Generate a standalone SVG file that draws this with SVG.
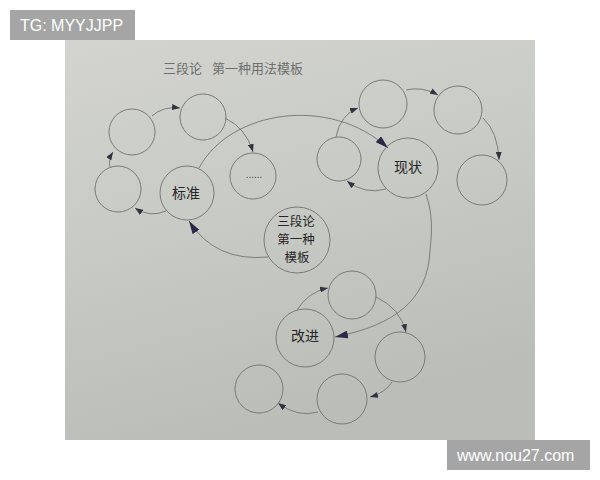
<svg xmlns="http://www.w3.org/2000/svg" width="600" height="480" viewBox="0 0 600 480">
<defs>
<linearGradient id="bg" x1="0" y1="0" x2="0.3" y2="1">
<stop offset="0" stop-color="#d3d4d0"/>
<stop offset="0.5" stop-color="#c8cac5"/>
<stop offset="1" stop-color="#babdb8"/>
</linearGradient>
<marker id="sa" markerUnits="userSpaceOnUse" markerWidth="8" markerHeight="6" refX="8" refY="3" orient="auto">
<path d="M0,0 L8,3 L0,6 z" fill="#333340"/>
</marker>
<marker id="ba" markerUnits="userSpaceOnUse" markerWidth="13" markerHeight="8" refX="13" refY="4" orient="auto">
<path d="M0,0 L13,4 L0,8 z" fill="#2a2a48"/>
</marker>
</defs>
<style>
.c{fill:none;stroke:#7a7b78;stroke-width:1}
.l{fill:none;stroke:#7d7e7b;stroke-width:1}
.s{marker-end:url(#sa)}
.b{marker-end:url(#ba)}
.t{font-family:"Noto Sans CJK SC",sans-serif;font-size:14px;fill:#262626;text-anchor:middle}
.m{font-family:"Noto Sans CJK SC",sans-serif;font-size:12.5px;fill:#262626;text-anchor:middle}
.h{font-family:"Noto Sans CJK SC",serif;font-size:13px;fill:#6e6f6c}
.w{font-family:"Liberation Sans",Arial,sans-serif;font-size:16px;fill:#ffffff}
</style>
<rect x="0" y="0" width="600" height="480" fill="#ffffff"/>
<rect x="65" y="40" width="470" height="400" fill="url(#bg)"/>
<text class="h" x="163" y="73">三段论</text>
<text class="h" x="212" y="73">第一种用法模板</text>

<g id="connectors">
<path class="l s" d="M110,167 Q108,160 113,152"/>
<path class="l s" d="M152,116 Q163,106 180,108"/>
<path class="l s" d="M225,118 Q246,128 253,152"/>
<path class="l s" d="M166,211 Q150,218 135,208"/>
<path class="l b" d="M199,168 C230,110 330,95 388,148"/>
<path class="l b" d="M268,257 Q215,262 189,221"/>
<path class="l s" d="M386,189 Q365,195 347,181"/>
<path class="l s" d="M336,137 Q340,115 358,108"/>
<path class="l s" d="M406,90 Q422,86 438,95"/>
<path class="l s" d="M483,118 Q498,132 499,160"/>
<path class="l b" d="M426,194 C433,215 432,232 430,250 C428,300 395,325 335,337"/>
<path class="l s" d="M297,310 Q308,292 328,288"/>
<path class="l s" d="M376,297 Q400,308 406,332"/>
<path class="l s" d="M392,382 Q385,393 370,397"/>
<path class="l s" d="M318,412 Q298,418 278,403"/>
</g>

<g id="nA"><circle class="c" cx="132" cy="132" r="23"/></g>
<g id="nB"><circle class="c" cx="203" cy="117" r="23"/></g>
<g id="nDots"><circle class="c" cx="253" cy="176" r="23"/><text x="254" y="178" font-family="'Liberation Sans',sans-serif" font-size="10" fill="#444" text-anchor="middle">......</text></g>
<g id="nC"><circle class="c" cx="118" cy="189" r="23"/></g>
<g id="nBiaozhun"><circle class="c" cx="187" cy="193" r="27"/><text class="t" x="186" y="198">标准</text></g>
<g id="nCenter"><circle class="c" cx="297" cy="240" r="33"/>
<text class="m" x="296" y="226">三段论</text>
<text class="m" x="296" y="244">第一种</text>
<text class="m" x="297" y="262">模板</text></g>
<g id="nD"><circle class="c" cx="383" cy="104" r="24"/></g>
<g id="nE"><circle class="c" cx="458" cy="110" r="24"/></g>
<g id="nF"><circle class="c" cx="339" cy="159" r="22"/></g>
<g id="nXianzhuang"><circle class="c" cx="408" cy="168" r="30"/><text class="t" x="408" y="172">现状</text></g>
<g id="nG"><circle class="c" cx="482" cy="180" r="25"/></g>
<g id="nH"><circle class="c" cx="352" cy="295" r="24"/></g>
<g id="nGaijin"><circle class="c" cx="305" cy="338" r="29"/><text class="t" x="305" y="341">改进</text></g>
<g id="nI"><circle class="c" cx="400" cy="357" r="25"/></g>
<g id="nJ"><circle class="c" cx="342" cy="399" r="25"/></g>
<g id="nK"><circle class="c" cx="259" cy="389" r="24"/></g>

<rect x="10" y="10" width="125" height="30" fill="#a5a5a5"/>
<text class="w" x="20" y="31">TG: MYYJJPP</text>
<rect x="447" y="440" width="143" height="30" fill="#a5a5a5"/>
<text class="w" x="457" y="461">www.nou27.com</text>
</svg>
